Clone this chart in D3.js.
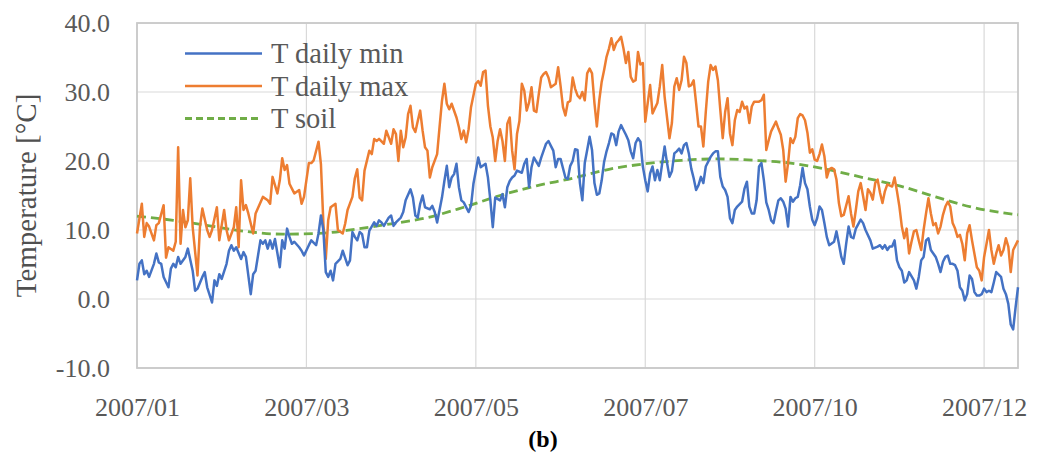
<!DOCTYPE html>
<html>
<head>
<meta charset="utf-8">
<script src="https://cdn.jsdelivr.net/npm/d3@7"></script>
<style>
  body { margin: 0; background: #fff; }
  text { font-family: "Liberation Serif", "DejaVu Serif", serif; }
</style>
</head>
<body>
<div id="chart"></div>
<script>
// day offset from 2007-01-01, value in degC
var tMax = [
  [0,9.5],[2,13.8],[3,9],[4,11],[5,10.5],[7,8.5],[8,10.7],[9,11],[11,13.6],[12,6],[13,7.5],[15,7],[16,8.3],[17,22],[18,8],
  [19,12.9],[20,10.4],[21,11.4],[22,17.5],[23,10.4],[25,3.4],[26,10.4],[27,13.1],[29,10],[30,9],[31,10],[33,13.3],[34,8.5],
  [36,12.9],[37,10],[38,8.5],[40,10.4],[41,13.3],[42,7.5],[43,17.2],[44,12.9],[45,13.6],[46,12.4],[48,9.5],[49,12.4],[51,14],
  [52,14.8],[54,14.3],[55,13.8],[56,17.7],[58,15.3],[59,17.2],[60,20.4],[61,18.7],[62,19.4],[63,16.7],[64,16],[65,15.3],
  [67,15.8],[68,13.8],[69,14.8],[71,19.7],[72,19.7],[73,20.1],[75,22.8],[76,19.5],[77,11],[78,5.8],[79,11.4],[80,13.3],
  [82,13.8],[83,10],[85,9.5],[86,10.9],[87,12.9],[89,14.8],[90,17.5],[91,18.8],[92,14.7],[93,14.3],[94,18.6],[96,21.5],
  [97,21],[98,23.2],[99,22.9],[100,23.2],[102,22.5],[103,24.4],[105,22.5],[106,24.6],[107,23.9],[108,20],[109,24.4],[110,22],
  [111,23.4],[112,26.8],[113,28],[114,24.9],[115,24.2],[116,25.8],[117,27.3],[118,24.4],[119,22],[120,21.5],[121,17.6],
  [122,19.1],[124,21],[125,24.9],[126,28.7],[127,31.2],[128,28.3],[129,27.5],[130,28.3],[132,26.3],[133,24.9],[134,23.2],
  [135,24.4],[136,22.7],[137,24.6],[138,27.8],[140,31.2],[141,31.6],[142,30.9],[143,32.9],[144,33.1],[145,28],[146,25],
  [147,23.4],[148,20],[149,22.9],[150,24.6],[151,22.9],[152,20],[153,25.4],[154,26.3],[155,21.5],[156,18.8],[157,23.9],
  [158,25.8],[159,31.2],[160,30.2],[161,27.3],[162,28.5],[163,30.7],[164,27.3],[165,27.1],[166,29.7],[167,32.1],[168,32.6],
  [169,32.9],[170,32.1],[171,30.7],[173,31.2],[174,33.6],[175,30.9],[176,27.8],[177,26.6],[178,28.5],[179,28.7],[180,32.1],
  [181,30.5],[182,29.5],[183,29.1],[184,30],[185,28.8],[186,32.7],[187,33.4],[188,32.7],[189,28.4],[190,25],[191,28.8],
  [192,31.5],[193,33.2],[194,35.1],[195,36.3],[196,37.8],[197,36.1],[198,37.1],[199,37.5],[200,38],[201,36.3],[202,34.2],
  [203,35.8],[204,32.2],[205,31.5],[206,31.7],[207,35.8],[208,34],[209,34.2],[210,25.7],[211,28.4],[212,31],[213,26.9],
  [215,28.4],[216,30.8],[217,33.9],[218,29.3],[220,23.3],[221,25.5],[222,30.8],[223,32],[224,30.3],[225,31.7],[226,35.1],
  [227,34.2],[228,30.8],[229,31],[230,31.7],[231,28.4],[232,25],[233,25],[234,22.1],[235,27.1],[236,31.5],[237,33.9],
  [238,33.2],[239,33.7],[240,31.7],[241,27.4],[242,23.3],[243,27.1],[244,29.1],[245,24],[246,22.3],[247,25.9],[248,27.4],
  [249,27.1],[250,28.6],[251,27.6],[252,27.9],[253,25.5],[254,27.9],[255,28.6],[257,28.6],[258,28.8],[259,29.6],[260,21.6],
  [261,23],[262,24.3],[264,25.7],[265,24.7],[266,23.8],[267,21.6],[268,17],[269,19.7],[270,23.3],[271,22.6],[272,23.5],
  [273,26.2],[274,26.8],[275,26.6],[276,25.9],[277,24.1],[278,21.2],[279,21.7],[280,20.2],[281,20],[282,21],[283,22.4],
  [284,20.7],[285,17.6],[286,18.8],[287,19],[288,18.8],[289,17.3],[290,13.9],[291,12],[292,12.2],[294,14.9],[295,12.4],
  [296,10.5],[297,12.9],[298,15.6],[299,16.8],[300,14.9],[301,12.9],[302,15.9],[303,15.4],[304,14.4],[305,16.8],[306,17.3],
  [307,15.4],[308,13.9],[309,15.6],[310,16.6],[312,16.3],[313,17.6],[314,15.6],[315,13.4],[316,10.5],[317,8.8],[318,10.2],
  [319,6.6],[320,8.3],[321,9.8],[322,10],[323,8.5],[324,7.1],[325,10],[326,12.4],[327,14.6],[328,12.4],[329,10.7],[330,11],
  [331,9.5],[332,10.5],[333,12.2],[334,13.4],[335,14.1],[336,13.4],[337,11],[338,10.2],[339,9],[340,9.3],[341,8],[342,5.6],
  [343,9.5],[344,10.7],[345,8.5],[347,4.6],[348,4.1],[349,2.7],[350,6.1],[351,8],[352,10],[353,7.1],[354,5.1],[355,6.6],
  [356,7.8],[357,6.3],[358,7.1],[359,8.8],[360,7.6],[361,3.9],[362,7.1],[364,8.5]
];
var tMin = [
  [0,2.7],[1,5.1],[2,5.6],[3,3.6],[4,4.1],[5,3.2],[7,5.1],[8,6.6],[9,5.3],[10,5.1],[11,3.2],[13,1.7],[14,4.4],[15,5.1],
  [16,4.6],[17,6.1],[18,5.1],[20,6.1],[21,7.3],[23,4.1],[24,1.2],[25,1.5],[27,3.2],[28,3.9],[29,1.7],[31,-0.5],[32,2.7],
  [33,1.9],[34,3.6],[35,2.9],[37,5.1],[38,7],[39,7.8],[40,7],[41,7.5],[43,5.8],[44,6.8],[45,6.1],[47,0.7],[48,3.6],[49,4.1],
  [51,8.5],[52,8],[53,8.5],[54,7.3],[55,8.5],[56,7.3],[57,8.7],[59,4.6],[60,8.5],[61,7.3],[62,10.2],[63,9],[64,8],[65,8.3],
  [67,7.5],[68,7],[69,6.3],[71,7.8],[72,8.5],[74,7.8],[75,9.5],[76,12.1],[77,10],[78,3.9],[79,3.2],[80,4.1],[81,2.7],
  [82,5.1],[84,5.8],[85,7],[87,4.9],[88,5.6],[89,9.7],[90,9],[91,8.5],[92,9.7],[93,9.4],[94,7.5],[95,7.5],[96,9.9],[98,11.1],
  [99,10.6],[100,11.4],[101,11.1],[102,10.6],[104,11.8],[105,12.1],[106,10.6],[107,11.1],[109,11.8],[110,12.6],[111,14.3],
  [113,15.9],[114,14.7],[115,12.1],[116,11.8],[117,13.8],[118,15],[119,13.3],[121,13],[122,13.5],[123,12.6],[124,11.1],
  [126,14.7],[127,17.1],[128,19.3],[129,16.2],[130,17.6],[131,18.1],[132,19.6],[133,16.2],[134,14.3],[135,14],[137,12.6],
  [138,13.5],[139,16.7],[140,18.6],[141,20.5],[142,19.1],[144,19.6],[145,17.6],[146,14.3],[147,10.4],[148,14.7],[150,14.3],
  [151,15.2],[152,13.3],[153,16.2],[154,17.1],[155,17.6],[156,17.9],[157,18.6],[159,18.3],[160,19.6],[161,20.3],[162,16.2],
  [163,19.1],[164,20.5],[166,19.3],[167,20.5],[168,21.5],[169,22.5],[170,22.9],[171,22.2],[172,21.5],[173,19.1],[174,20.3],
  [175,20.3],[177,17.6],[178,17.4],[179,19.3],[180,20],[181,21.7],[182,21.6],[183,16.8],[184,14.3],[185,19.7],[186,21.6],
  [187,23.5],[188,21.6],[189,16.8],[190,15.1],[191,15.3],[192,17.2],[193,19.9],[194,21.4],[195,22.6],[196,24],[197,23.8],
  [198,22.3],[199,24.3],[200,25.2],[201,24.5],[202,23.8],[203,23],[204,21.4],[205,20.4],[206,22.6],[207,23.3],[208,22.8],
  [209,19.2],[210,17.2],[211,15.6],[212,18.2],[213,19.2],[214,17.2],[215,18.7],[216,17.2],[217,19.7],[218,22.1],[219,19.7],
  [220,17.7],[221,18.5],[222,21.1],[223,21.4],[224,21.8],[225,21.1],[226,22.3],[227,22.6],[228,21.1],[229,18.9],[230,17.5],
  [231,15.8],[232,16.5],[233,17.7],[234,16.8],[235,19.2],[237,20.6],[238,21.1],[239,21.4],[240,21.4],[241,17.7],[242,16.3],
  [243,15.8],[244,14.8],[245,11.7],[246,11],[247,12.9],[248,13.4],[250,14.1],[251,16],[252,17],[253,13.4],[254,12.4],
  [255,12.4],[256,14.3],[257,19.2],[258,19.7],[259,17.2],[260,14],[261,12.9],[262,11.4],[263,11],[264,12.7],[265,14.3],
  [266,14.6],[267,14.1],[268,13.1],[269,10.5],[270,14.8],[271,14.1],[272,14.6],[273,14.8],[274,16.5],[275,19],[276,16.8],
  [277,15.9],[278,13.4],[279,11.5],[280,10.7],[281,11.7],[282,13.4],[283,12.9],[284,11],[285,9],[286,7.8],[288,8.3],
  [289,9.8],[290,8],[291,6.1],[292,5.1],[293,8],[294,10.5],[295,9],[296,8.8],[297,10.2],[299,11.5],[300,11],[301,10],
  [303,8.5],[304,7.3],[306,7.6],[307,7.8],[308,7.3],[309,7.8],[310,7.1],[311,7.6],[312,7.6],[313,8.5],[314,5.6],[315,4.6],
  [316,4.1],[317,2.4],[318,2.7],[319,3.9],[321,2.7],[322,1.5],[323,3.2],[324,5.6],[325,6.1],[326,8.5],[327,8.8],[328,7.1],
  [329,6.6],[330,6.1],[331,5.1],[332,3.9],[333,5.4],[334,6.1],[335,6.3],[336,5.1],[337,5.1],[338,4.9],[339,4.1],[340,1.7],
  [341,1.2],[342,-0.2],[343,0.7],[344,3.4],[345,2.9],[346,1],[347,0.5],[348,0.5],[349,0.7],[350,1.5],[351,1],[352,1.2],
  [353,1],[354,2.4],[355,3.9],[357,3.2],[358,1.5],[359,0.7],[360,-0.7],[361,-3.7],[362,-4.4],[363,-1.2],[364,1.7]
];
var tSoil = [
  [0,12.0],[15,11.4],[30,10.6],[45,9.8],[60,9.4],[75,9.5],[90,10.1],[105,10.9],[120,11.8],[135,13.3],[150,15.0],
  [165,16.4],[180,17.5],[195,18.8],[210,19.6],[225,20.1],[240,20.3],[255,20.1],[270,19.7],[285,18.8],[300,17.6],
  [315,16.4],[330,14.8],[345,13.3],[364,12.2]
];
var seriesNames = ["T daily min", "T daily max", "T soil"];
var seriesColors = ["#4472C4", "#ED7D31", "#70AD47"];
var xTickDays = [0, 70, 140, 210, 280, 350];
var yTicks = [-10, 0, 10, 20, 30, 40];

var W = 1042, H = 464;
var plot = {left: 137, right: 1018, top: 23, bottom: 368};
var start = new Date(2007, 0, 1);
var day = function(n) { return d3.timeDay.offset(start, n); };

var x = d3.scaleTime().domain([day(0), day(364)]).range([plot.left, plot.right]);
var y = d3.scaleLinear().domain([-10, 40]).range([plot.bottom, plot.top]);

var svg = d3.select("#chart").append("svg")
  .attr("width", W).attr("height", H);

// grid
svg.append("g").selectAll("line.h").data(yTicks).enter().append("line")
  .attr("x1", plot.left).attr("x2", plot.right)
  .attr("y1", function(d) { return y(d); }).attr("y2", function(d) { return y(d); })
  .style("stroke", "#d9d9d9").style("stroke-width", 1.2);
svg.append("g").selectAll("line.v").data(xTickDays).enter().append("line")
  .attr("x1", function(d) { return x(day(d)); }).attr("x2", function(d) { return x(day(d)); })
  .attr("y1", plot.top).attr("y2", plot.bottom)
  .style("stroke", "#d9d9d9").style("stroke-width", 1.2);

svg.append("rect")
  .attr("x", plot.left).attr("y", plot.top)
  .attr("width", plot.right - plot.left).attr("height", plot.bottom - plot.top)
  .style("fill", "none").style("stroke", "#c9c9c9").style("stroke-width", 1.8);

// axes (labels only, Excel style); hyphen minus like the original
var fmt = d3.format(".1f");
var yAxis = d3.axisLeft(y).tickValues(yTicks)
  .tickFormat(function(d) { return fmt(d).replace("\u2212", "-"); })
  .tickSize(0).tickPadding(0);
var gy = svg.append("g").attr("transform", "translate(" + (plot.left - 27) + ",0)").call(yAxis);
var xAxis = d3.axisBottom(x).tickValues(xTickDays.map(day)).tickFormat(d3.timeFormat("%Y/%m")).tickSize(0).tickPadding(0);
var gx = svg.append("g").attr("transform", "translate(0," + (plot.bottom + 30) + ")").call(xAxis);
[gy, gx].forEach(function(g) {
  g.select(".domain").remove();
  g.selectAll("text").style("font-family", "Liberation Serif").style("font-size", "26px").style("fill", "#595959");
});
gx.selectAll("text").attr("dy", "0.71em");
gy.selectAll("text").attr("dy", "0.34em");

// lines
var line = d3.line().x(function(d) { return x(day(d[0])); }).y(function(d) { return y(d[1]); });
var soilLine = d3.line().curve(d3.curveMonotoneX).x(function(d) { return x(day(d[0])); }).y(function(d) { return y(d[1]); });

svg.append("path").datum(tSoil).attr("d", soilLine)
  .style("fill", "none").style("stroke", seriesColors[2]).style("stroke-width", 2.8).style("stroke-dasharray", "9,5");
svg.append("path").datum(tMax).attr("d", line)
  .style("fill", "none").style("stroke", seriesColors[1]).style("stroke-width", 2.5).style("stroke-linejoin", "round");
svg.append("path").datum(tMin).attr("d", line)
  .style("fill", "none").style("stroke", seriesColors[0]).style("stroke-width", 2.5).style("stroke-linejoin", "round");

// legend
var leg = svg.append("g");
seriesNames.forEach(function(name, i) {
  var ly = 53.5 + i * 32.5;
  leg.append("line").attr("x1", 185).attr("x2", 262).attr("y1", ly).attr("y2", ly)
    .style("stroke", seriesColors[i]).style("stroke-width", i == 2 ? 2.8 : 2.5)
    .style("stroke-dasharray", i == 2 ? "7,4" : null);
  leg.append("text").attr("x", 271).attr("y", ly + 9.5)
    .style("font-size", "28.5px").style("fill", "#595959").text(name);
});

// axis title
svg.append("text")
  .attr("transform", "translate(36," + ((plot.top + plot.bottom) / 2) + ") rotate(-90)")
  .attr("text-anchor", "middle")
  .style("font-size", "29px").style("fill", "#505050")
  .text("Temperature [°C]");

svg.append("text")
  .attr("x", 543).attr("y", 447).attr("text-anchor", "middle")
  .style("font-size", "24px").style("font-weight", "bold").style("fill", "#000")
  .text("(b)");
</script>
</body>
</html>
